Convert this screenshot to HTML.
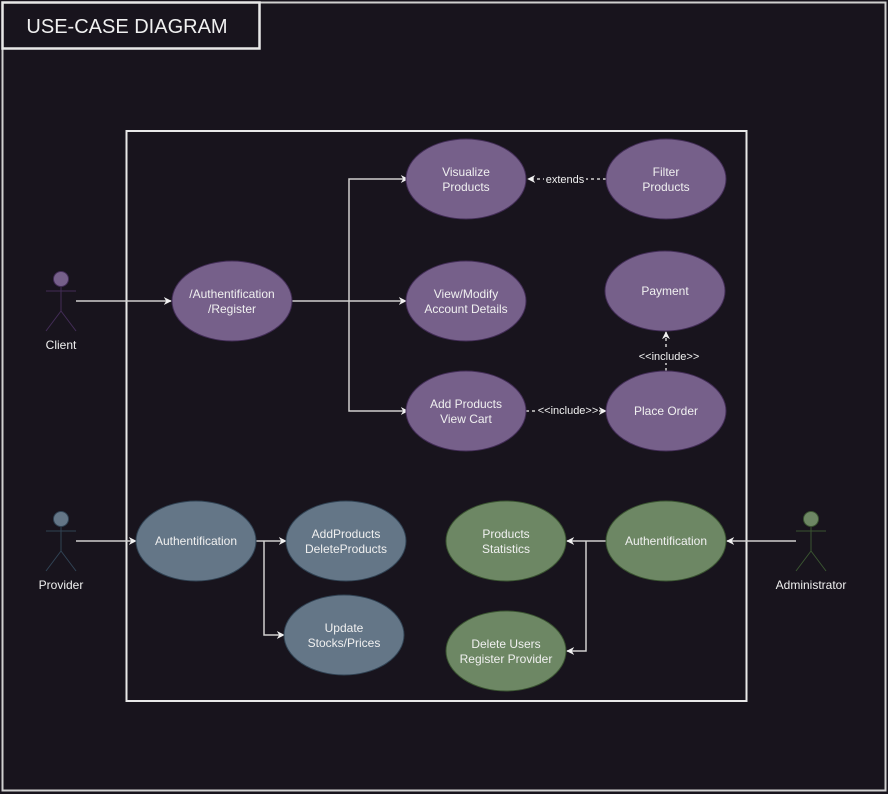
<!DOCTYPE html>
<html><head><meta charset="utf-8"><style>
html,body{margin:0;padding:0;background:#18141d;}
svg{display:block}
text{font-family:"Liberation Sans",sans-serif;fill:#f0f0f0;font-size:12px;text-anchor:middle}
</style></head><body>
<svg width="888" height="794" viewBox="0 0 888 794" xmlns="http://www.w3.org/2000/svg">
<defs>
<marker id="a" viewBox="0 0 10 10" refX="9" refY="5" markerWidth="8" markerHeight="8" orient="auto" markerUnits="userSpaceOnUse">
<path d="M0,0 L10,5 L0,10 L3,5 Z" fill="#f0f0f0"/></marker>
</defs>
<rect x="0" y="0" width="888" height="794" fill="#18141d"/>
<rect x="2.5" y="2.5" width="883" height="788" fill="none" stroke="#d0d0d0" stroke-width="2"/>
<rect x="2.5" y="2.5" width="257" height="46" fill="#18141d" stroke="#e8e8e8" stroke-width="2.5"/>
<text x="127" y="33" style="font-size:20px">USE-CASE DIAGRAM</text>
<rect x="126.5" y="131" width="620" height="570" fill="none" stroke="#e8e8e8" stroke-width="2"/>

<g stroke="#cfcfcf" stroke-width="1.5" fill="none">
<path d="M76,301 H171" marker-end="url(#a)"/>
<path d="M292,301 H406" marker-end="url(#a)"/>
<path d="M349,301 V179 H408" marker-end="url(#a)"/>
<path d="M349,301 V411 H408" marker-end="url(#a)"/>
<path d="M606,179 H528" stroke-dasharray="3,3" marker-end="url(#a)"/>
<path d="M526,411 H606" stroke-dasharray="3,3" marker-end="url(#a)"/>
<path d="M666,371 V332" stroke-dasharray="3,3" marker-end="url(#a)"/>
<path d="M76,541 H136" marker-end="url(#a)"/>
<path d="M256,541 H286" marker-end="url(#a)"/>
<path d="M264,541 V635 H284" marker-end="url(#a)"/>
<path d="M796,541 H727" marker-end="url(#a)"/>
<path d="M606,541 H567" marker-end="url(#a)"/>
<path d="M586,541 V651 H567" marker-end="url(#a)"/>
</g>
<rect x="544" y="172" width="42" height="14" fill="#18141d"/>
<text x="565" y="183" style="font-size:11px">extends</text>
<rect x="537" y="404" width="62" height="14" fill="#18141d"/>
<text x="568" y="414" style="font-size:11px">&lt;&lt;include&gt;&gt;</text>
<rect x="637" y="349" width="62" height="14" fill="#18141d"/>
<text x="669" y="360" style="font-size:11px">&lt;&lt;include&gt;&gt;</text>

<g stroke="#432d57" stroke-width="1" fill="#76608a">
<ellipse cx="466" cy="179" rx="60" ry="40"/>
<ellipse cx="666" cy="179" rx="60" ry="40"/>
<ellipse cx="232" cy="301" rx="60" ry="40"/>
<ellipse cx="466" cy="301" rx="60" ry="40"/>
<ellipse cx="665" cy="291" rx="60" ry="40"/>
<ellipse cx="466" cy="411" rx="60" ry="40"/>
<ellipse cx="666" cy="411" rx="60" ry="40"/>
</g>
<g stroke="#314354" stroke-width="1" fill="#647687">
<ellipse cx="196" cy="541" rx="60" ry="40"/>
<ellipse cx="346" cy="541" rx="60" ry="40"/>
<ellipse cx="344" cy="635" rx="60" ry="40"/>
</g>
<g stroke="#3a5431" stroke-width="1" fill="#6d8764">
<ellipse cx="506" cy="541" rx="60" ry="40"/>
<ellipse cx="666" cy="541" rx="60" ry="40"/>
<ellipse cx="506" cy="651" rx="60" ry="40"/>
</g>

<text x="466" y="176">Visualize</text><text x="466" y="191">Products</text>
<text x="666" y="176">Filter</text><text x="666" y="191">Products</text>
<text x="232" y="298">/Authentification</text><text x="232" y="313">/Register</text>
<text x="466" y="298">View/Modify</text><text x="466" y="313">Account Details</text>
<text x="665" y="295">Payment</text>
<text x="466" y="408">Add Products</text><text x="466" y="423">View Cart</text>
<text x="666" y="415">Place Order</text>
<text x="196" y="545">Authentification</text>
<text x="346" y="538">AddProducts</text><text x="346" y="553">DeleteProducts</text>
<text x="344" y="632">Update</text><text x="344" y="647">Stocks/Prices</text>
<text x="506" y="538">Products</text><text x="506" y="553">Statistics</text>
<text x="666" y="545">Authentification</text>
<text x="506" y="648">Delete Users</text><text x="506" y="663">Register Provider</text>

<g stroke-width="1">
<g stroke="#432d57" fill="#76608a"><circle cx="61" cy="279" r="7.5"/><path d="M61,286.5 V311 M46,291 H76 M61,311 L46,331 M61,311 L76,331" fill="none"/></g>
<g stroke="#314354" fill="#647687"><circle cx="61" cy="519" r="7.5"/><path d="M61,526.5 V551 M46,531 H76 M61,551 L46,571 M61,551 L76,571" fill="none"/></g>
<g stroke="#3a5431" fill="#6d8764"><circle cx="811" cy="519" r="7.5"/><path d="M811,526.5 V551 M796,531 H826 M811,551 L796,571 M811,551 L826,571" fill="none"/></g>
</g>
<text x="61" y="349">Client</text>
<text x="61" y="589">Provider</text>
<text x="811" y="589">Administrator</text>
</svg>
</body></html>
